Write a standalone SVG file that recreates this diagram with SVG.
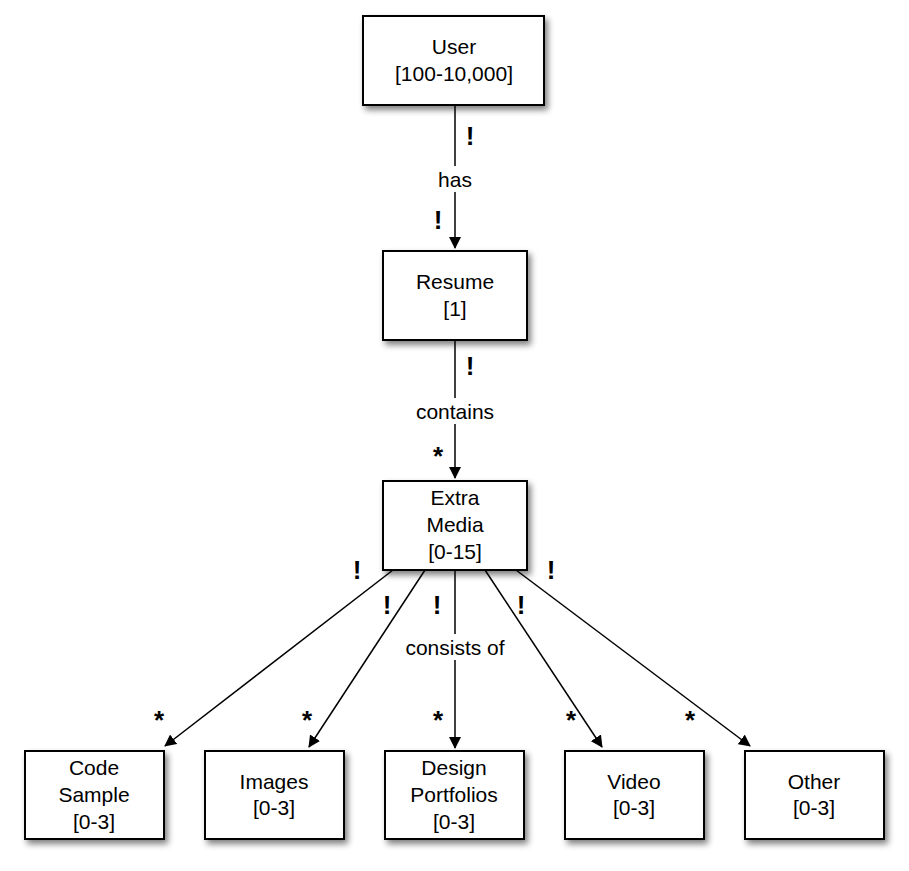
<svg xmlns="http://www.w3.org/2000/svg" width="909" height="871" viewBox="0 0 909 871">
<style>
.box{fill:#fff;stroke:#000;stroke-width:2;filter:url(#sh)}
.t{font-family:"Liberation Sans",Arial,sans-serif;font-size:21px;text-anchor:middle;fill:#000}
.m{font-family:"Liberation Sans",Arial,sans-serif;font-size:26px;font-weight:bold;text-anchor:middle;fill:#000}
.c{stroke:#000;stroke-width:1.5;fill:none;marker-end:url(#a)}
</style>
<defs>
<filter id="sh" x="-20%" y="-20%" width="150%" height="150%"><feGaussianBlur in="SourceAlpha" stdDeviation="3"/><feOffset dx="3" dy="4"/><feComponentTransfer><feFuncA type="linear" slope="0.5"/></feComponentTransfer><feMerge><feMergeNode/><feMergeNode in="SourceGraphic"/></feMerge></filter>
<marker id="a" markerWidth="12" markerHeight="12" refX="11" refY="6" orient="auto" markerUnits="userSpaceOnUse"><path d="M0,0 L12,6 L0,12 z" fill="#000"/></marker>
</defs>
<g id="connectors">
<line class="c" x1="455" y1="105" x2="455" y2="248"/>
<rect x="425" y="166" width="60" height="26" fill="#fff"/>
<text class="t" x="455" y="187">has</text>
<text class="m" x="470" y="145">!</text>
<text class="m" x="438" y="229">!</text>
<line class="c" x1="455" y1="340" x2="455" y2="478"/>
<rect x="400" y="398" width="110" height="26" fill="#fff"/>
<text class="t" x="455" y="419">contains</text>
<text class="m" x="470" y="375">!</text>
<text class="m" x="438" y="465">*</text>
<line class="c" x1="393" y1="570" x2="165" y2="746"/>
<line class="c" x1="425" y1="570" x2="309" y2="747"/>
<line class="c" x1="455" y1="570" x2="455" y2="748"/>
<line class="c" x1="485" y1="570" x2="602" y2="747"/>
<line class="c" x1="516" y1="570" x2="750" y2="746"/>
<rect x="393" y="634" width="124" height="26" fill="#fff"/>
<text class="t" x="455" y="655">consists of</text>
<text class="m" x="357" y="579">!</text>
<text class="m" x="387" y="614">!</text>
<text class="m" x="437" y="614">!</text>
<text class="m" x="521" y="614">!</text>
<text class="m" x="551" y="579">!</text>
<text class="m" x="159" y="729">*</text>
<text class="m" x="307" y="729">*</text>
<text class="m" x="438" y="729">*</text>
<text class="m" x="571" y="729">*</text>
<text class="m" x="690" y="729">*</text>
</g>
<g id="user"><rect class="box" x="363" y="16" width="181" height="89"/><text class="t" x="454" y="54">User</text><text class="t" x="454" y="81">[100-10,000]</text></g>
<g id="resume"><rect class="box" x="383" y="251" width="144" height="89"/><text class="t" x="455" y="289">Resume</text><text class="t" x="455" y="316">[1]</text></g>
<g id="extra"><rect class="box" x="383" y="481" width="144" height="89"/><text class="t" x="455" y="505">Extra</text><text class="t" x="455" y="532">Media</text><text class="t" x="455" y="559">[0-15]</text></g>
<g id="code"><rect class="box" x="25" y="751" width="139" height="88"/><text class="t" x="94" y="775">Code</text><text class="t" x="94" y="802">Sample</text><text class="t" x="94" y="829">[0-3]</text></g>
<g id="images"><rect class="box" x="205" y="751" width="139" height="88"/><text class="t" x="274" y="789">Images</text><text class="t" x="274" y="815">[0-3]</text></g>
<g id="design"><rect class="box" x="385" y="751" width="139" height="88"/><text class="t" x="454" y="775">Design</text><text class="t" x="454" y="802">Portfolios</text><text class="t" x="454" y="829">[0-3]</text></g>
<g id="video"><rect class="box" x="565" y="751" width="139" height="88"/><text class="t" x="634" y="789">Video</text><text class="t" x="634" y="815">[0-3]</text></g>
<g id="other"><rect class="box" x="745" y="751" width="139" height="88"/><text class="t" x="814" y="789">Other</text><text class="t" x="814" y="815">[0-3]</text></g>
</svg>
